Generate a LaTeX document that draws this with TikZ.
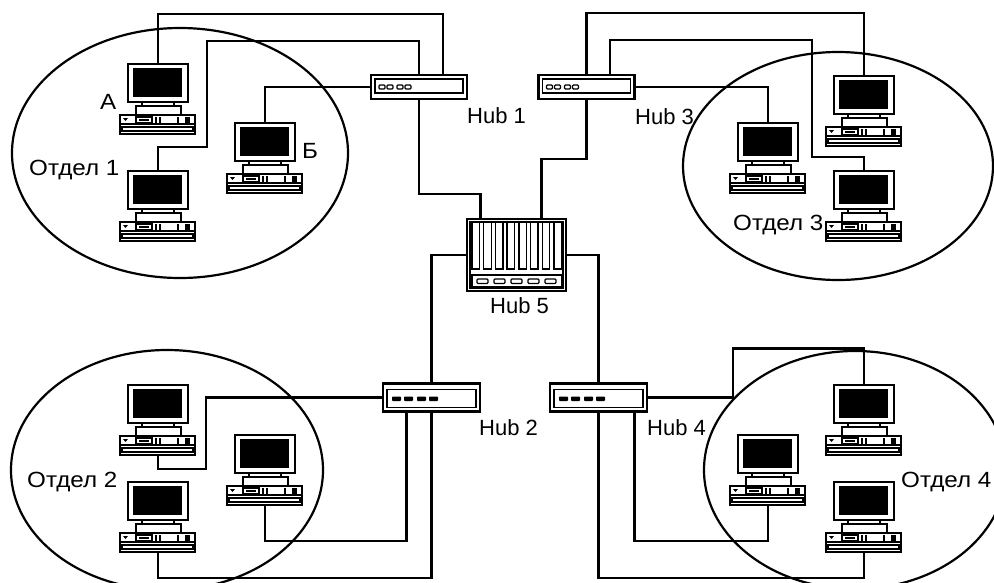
\documentclass[tikz,border=0pt]{standalone}
\usepackage{fontspec}
\setmainfont{Liberation Sans}
\usepackage{tikz}

\tikzset{
  wire/.style={line width=2.2pt, line join=miter},
  dept/.style={line width=2.2pt},
  lbl/.style={inner sep=0pt, anchor=base west, font=\fontsize{22}{26}\selectfont},
  % workstation: monitor on top of a desktop case
  computer/.pic={
    \coordinate (-top) at (0,0);
    \coordinate (-bot) at (0,72);
    \filldraw[fill=white, line width=2.6pt] (-30,1) rectangle (30,39);
    \fill (-25,5) rectangle (24,34);
    \filldraw[fill=white, line width=1.8pt] (-16,39) rectangle (16,43);
    \filldraw[fill=white, line width=1.8pt] (-22,43) rectangle (23,52);
    \filldraw[fill=white, line width=2.6pt] (-38,52) rectangle (37,71);
    \draw[line width=1.4pt] (-38,61) -- (37,61);
    \draw[line width=1.4pt] (-36,64) rectangle (35,68);
    \fill (-35,55) -- (-30,55) -- (-32.5,58) -- cycle;
    \draw[line width=1.2pt] (-22,54) rectangle (-6,60) (-19,57) -- (-9,57)
      (-2,54) -- (-2,60) (2,54) -- (2,60) (20,54) -- (20,60);
    \fill (27,54) rectangle (32,60);
  },
  hubA/.style={draw, fill=white, line width=2.4pt, minimum width=96pt, minimum height=24pt, inner sep=0pt,
    path picture={
      \draw[line width=1.4pt] ([shift={(4,4)}]path picture bounding box.north west)
        rectangle ([shift={(-4,-6)}]path picture bounding box.south east);
      \foreach \d in {0,8,18,26}
        \draw[line width=1.3pt, rounded corners=1pt] ([shift={(8+\d,10)}]path picture bounding box.north west) rectangle ++(6,4);
    }},
  hubB/.style={draw, fill=white, line width=2.4pt, minimum width=97pt, minimum height=28pt, inner sep=0pt,
    path picture={
      \draw[line width=1.4pt] ([shift={(4,6)}]path picture bounding box.north west)
        rectangle ([shift={(-4,-4)}]path picture bounding box.south east);
      \foreach \d in {0,12,25,37}
        \fill[black, rounded corners=0.8pt] ([shift={(9+\d,13)}]path picture bounding box.north west) rectangle ++(9,4.5);
    }},
  hubC/.style={draw, fill=white, line width=2.4pt, minimum width=99pt, minimum height=72pt, inner sep=0pt,
    path picture={
      \draw[line width=1.4pt] ([shift={(3,3)}]path picture bounding box.north west)
        rectangle ([shift={(-3,-3)}]path picture bounding box.south east);
      \foreach \i in {0,...,7}
        \draw[line width=1.4pt] ([shift={(5+11.7*\i,3)}]path picture bounding box.north west) rectangle ++(7.5,47);
      \draw[line width=1.4pt] ([shift={(5,56)}]path picture bounding box.north west)
        rectangle ([shift={(-4,-4)}]path picture bounding box.south east);
      \foreach \i in {0,...,4}
        \draw[line width=1.2pt, rounded corners=1pt] ([shift={(10+17*\i,60)}]path picture bounding box.north west) rectangle ++(11,4.5);
    }},
}
\newcommand{\wide}[1]{\scalebox{1.1}[1]{#1}}

\begin{document}
\begin{tikzpicture}[x=1pt,y=-1pt]
	\useasboundingbox (0,0) rectangle (994,582);
	\clip (0,0) rectangle (994,582);

	% departments
	\draw[dept] (180,153) ellipse [x radius=168pt, y radius=125pt];
	\draw[dept] (838,166) ellipse [x radius=155pt, y radius=114pt];
	\draw[dept] (167,470) ellipse [x radius=156pt, y radius=120pt];
	\draw[dept] (855,470) ellipse [x radius=151pt, y radius=119pt];

	% hubs
	\node[hubA] (hub1) at (419,87) {};
	\node[hubA] (hub3) at (586.5,87) {};
	\node[hubB] (hub2) at (431.5,397.5) {};
	\node[hubB] (hub4) at (598.5,397.5) {};
	\node[hubC] (hub5) at (516.5,255) {};

	% workstations
	\pic (pcA) at (158,63) {computer};
	\pic (pc1b) at (158,170) {computer};
	\pic (pcB) at (265,122) {computer};
	\pic (pc3a) at (864,75) {computer};
	\pic (pc3b) at (768,122) {computer};
	\pic (pc3c) at (864,170) {computer};
	\pic (pc2a) at (158,384) {computer};
	\pic (pc2b) at (265,434) {computer};
	\pic (pc2c) at (158,481) {computer};
	\pic (pc4a) at (864,384) {computer};
	\pic (pc4b) at (768,434) {computer};
	\pic (pc4c) at (864,481) {computer};

	% cabling
	\draw[wire] (pcA-top) -- ++(0,-49) -| ([xshift=24pt]hub1.north);
	\draw[wire] (pc1b-top) -- ++(0,-23) -- ++(49,0) -- ++(0,-106) -| (hub1.north);
	\draw[wire] (pcB-top) |- (hub1.west);
	\draw[wire] (hub1.south) -- ++(0,94) -| ([xshift=-36pt]hub5.north);

	\draw[wire] (hub3.north) -- ++(0,-61) -| (pc3a-top);
	\draw[wire] ([xshift=23.5pt]hub3.north) -- ++(0,-34) -- ++(202,0) -- ++(0,117) -| (pc3c-top);
	\draw[wire] (hub3.east) -| (pc3b-top);
	\draw[wire] (hub3.south) -- ++(0,59) -| ([xshift=25pt]hub5.north);

	\draw[wire] (hub5.west) -| (hub2.north);
	\draw[wire] (hub5.east) -| (hub4.north);

	\draw[wire] (hub2.west) -- ++(-176,0) -- ++(0,71.5) -| (pc2a-bot);
	\draw[wire] ([xshift=-25pt]hub2.south) -- ++(0,128) -| (pc2b-bot);
	\draw[wire] (hub2.south) -- ++(0,165) -| (pc2c-bot);

	\draw[wire] (hub4.east) -- ++(85,0) -- ++(0,-49) -| (pc4a-top);
	\draw[wire] ([xshift=36pt]hub4.south) -- ++(0,128) -| (pc4b-bot);
	\draw[wire] (hub4.south) -- ++(0,165) -| (pc4c-bot);

	% labels
	\node[lbl] (labA) at (100,109) {\wide{А}};
	\node[lbl] (labB) at (302,158) {\wide{Б}};
	\node[lbl] (lab1) at (29,175) {\wide{Отдел 1}};
	\node[lbl] (lab3) at (733,230) {\wide{Отдел 3}};
	\node[lbl] (lab2) at (27,487) {\wide{Отдел 2}};
	\node[lbl] (lab4) at (901,487) {\wide{Отдел 4}};
	\node[lbl] (labh1) at (467,123) {Hub 1};
	\node[lbl] (labh3) at (635,124) {Hub 3};
	\node[lbl] (labh5) at (490,313) {Hub 5};
	\node[lbl] (labh2) at (479,435) {Hub 2};
	\node[lbl] (labh4) at (647,435) {Hub 4};
\end{tikzpicture}
\end{document}
